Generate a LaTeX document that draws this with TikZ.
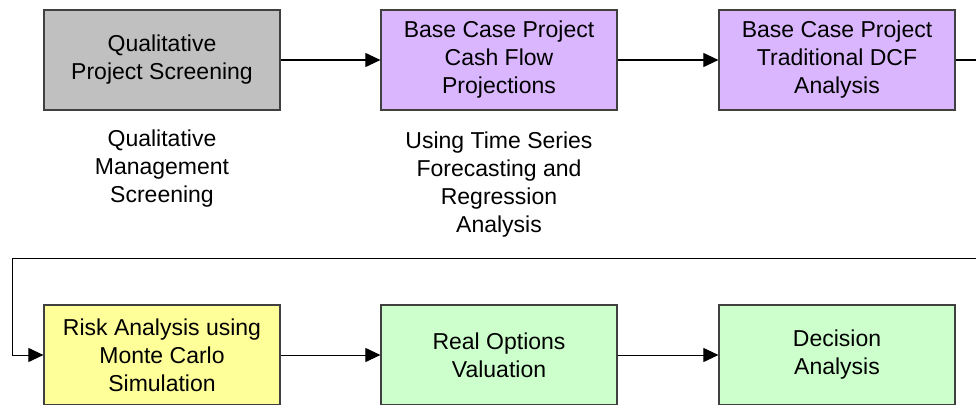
\documentclass[tikz,border=0pt]{standalone}
\usepackage{fontspec}
\setmainfont{Liberation Sans}
\usepackage{tikz}
\usetikzlibrary{arrows.meta}
\definecolor{screengray}{RGB}{192, 192, 192}
\definecolor{caselilac}{RGB}{218, 182, 255}
\definecolor{riskyellow}{RGB}{255, 255, 153}
\definecolor{optiongreen}{RGB}{204, 255, 204}
\definecolor{boxedge}{RGB}{64, 64, 64}

\begin{document}
\begin{tikzpicture}[x=1pt,y=-1pt,
    stage/.style={draw=boxedge,line width=1.2pt,minimum width=236pt,minimum height=100pt,
        inner sep=0pt,align=center,font=\fontsize{23}{28}\selectfont},
    note/.style={align=center,font=\fontsize{23}{28}\selectfont},
    flow/.style={-{Triangle[length=15pt,width=14pt]},line width=1pt}]
    \useasboundingbox (0,0) rectangle (976,404);
    \clip (0,0) rectangle (976,404);
    % top row
    \node[stage,fill=screengray] (screen) at (162,60) {Qualitative\\Project Screening};
    \node[stage,fill=caselilac] (cashflow) at (499,60) {Base Case Project\\Cash Flow\\Projections};
    \node[stage,fill=caselilac] (dcf) at (837,60) {Base Case Project\\Traditional DCF\\Analysis};
    \node[note] (screennote) at (162,169) {Qualitative\\Management\\Screening};
    \node[note] (cashnote) at (499,185) {Using Time Series\\Forecasting and\\Regression\\Analysis};
    % bottom row
    \node[stage,fill=riskyellow] (risk) at (162,355) {Risk Analysis using\\Monte Carlo\\Simulation};
    \node[stage,fill=optiongreen] (options) at (499,355) {Real Options\\Valuation};
    \node[stage,fill=optiongreen] (decision) at (837,355) {Decision\\Analysis};
    % connectors
    \coordinate (turnright) at (995,60);
    \coordinate (turnleft) at (12,258);
    \draw[flow] (screen) -- (cashflow);
    \draw[flow] (cashflow) -- (dcf);
    \draw[flow] (dcf.east) -- (turnright) |- (turnleft) |- (risk.west);
    \draw[flow] (risk) -- (options);
    \draw[flow] (options) -- (decision);
\end{tikzpicture}
\end{document}
